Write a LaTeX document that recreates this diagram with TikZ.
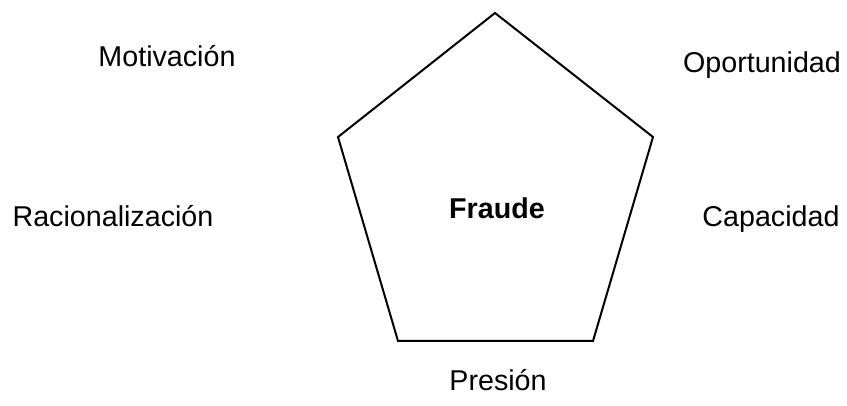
\documentclass[tikz,border=0pt]{standalone}
\usepackage{fontspec}
\setmainfont{Liberation Sans}
\usepackage{tikz}
\usetikzlibrary{positioning}

\begin{document}
\begin{tikzpicture}[x=0.75pt, y=-0.75pt, thick]
    \tikzstyle{label} = [anchor=base, inner sep=0pt, font=\fontsize{21.5}{26}\selectfont]
    \tikzstyle{side} = [draw, line width=1.5pt, line join=miter]
    \useasboundingbox (0,0) rectangle (847,406);

    % pentagon corners
    \coordinate (top) at (495,13);
    \coordinate (upright) at (653,137);
    \coordinate (lowright) at (593,341);
    \coordinate (lowleft) at (398,341);
    \coordinate (upleft) at (338,137);
    \path [side] (top) -- (upright) -- (lowright) -- (lowleft) -- (upleft) -- cycle;

    \node [label, font=\fontsize{21.5}{26}\selectfont\bfseries] (fraude) at (497,219) {Fraude};
    \node [label] (motivacion) at (167,67) {Motivación};
    \node [label] (oportunidad) at (762,73) {Oportunidad};
    \node [label] (racional) at (113,227) {Racionalización};
    \node [label] (capacidad) at (771,227) {Capacidad};
    \node [label] (presion) at (498,390) {Presión};
\end{tikzpicture}
\end{document}
